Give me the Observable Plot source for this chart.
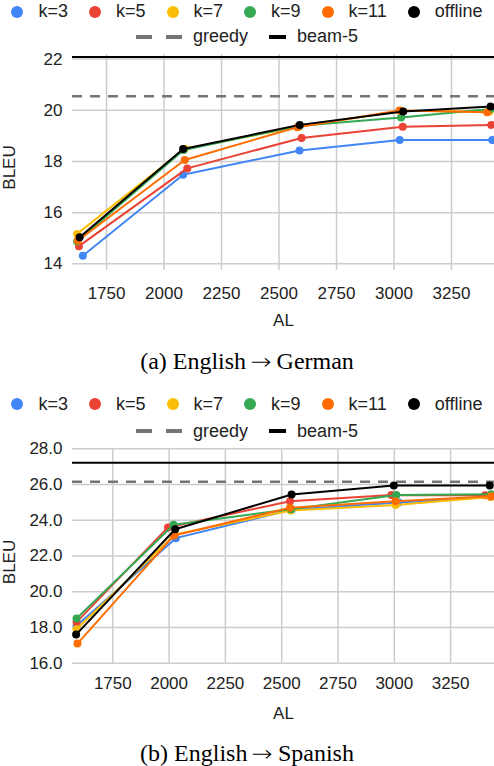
<!DOCTYPE html>
<html><head><meta charset="utf-8">
<script src="https://cdn.jsdelivr.net/npm/d3@7"></script>
<script src="https://cdn.jsdelivr.net/npm/@observablehq/plot@0.6"></script>
<style>
body{margin:0;background:#fff;}
#root{position:relative;width:494px;height:766px;overflow:hidden;font-family:"Liberation Sans",Arial,sans-serif;background:#fff;}
.row{position:absolute;left:0;width:494px;display:flex;justify-content:center;align-items:center;height:24px;font-size:18px;color:#222;white-space:nowrap;}
.item{display:flex;align-items:center;margin:0 10.5px;}
.item svg{display:block;}
.cap{position:absolute;left:0;width:494px;text-align:center;font-family:"Liberation Serif","Times New Roman",serif;font-size:24px;line-height:30px;color:#000;}
.arrow{font-family:"DejaVu Sans ExtraLight","DejaVu Sans",sans-serif;font-weight:200;font-size:22px;display:inline-block;transform:scaleX(1.15);}
.plot{position:absolute;left:0;}
</style></head><body><div id="root"></div>
<script>
// ---- shared ----
const seriesNames = ["k=3", "k=5", "k=7", "k=9", "k=11", "offline"];
const seriesColors = ["#4285F4", "#EA4335", "#FBBC04", "#34A853", "#FF6D01", "#000000"];
const refNames = ["greedy", "beam-5"];
const alTicks = [1750, 2000, 2250, 2500, 2750, 3000, 3250];

// ---- (a) English -> German ----
const deYTicks = [14, 16, 18, 20, 22];
const deAL = [
  [1647, 2083, 2589, 3025, 3427],
  [1630, 2101, 2598, 3038, 3423],
  [1622, 2090, 2585, 3030, 3415],
  [1622, 2085, 2590, 3031, 3420],
  [1625, 2090, 2580, 3024, 3405],
  [1633, 2083, 2590, 3040, 3420]
];
const deBLEU = [
  [14.32, 17.48, 18.43, 18.84, 18.84],
  [14.69, 17.73, 18.92, 19.36, 19.43],
  [15.17, 18.5, 19.36, 19.98, 19.95],
  [14.87, 18.45, 19.4, 19.72, 20.05],
  [14.9, 18.06, 19.34, 19.99, 19.92],
  [15.04, 18.49, 19.43, 19.95, 20.15]
];
const deGreedy = 20.55;
const deBeam = 22.08;

// ---- (b) English -> Spanish ----
const esYTicks = [16, 18, 20, 22, 24, 26, 28];
const esAL = [
  [1589, 2030, 2545, 3020, 3428],
  [1589, 1995, 2537, 2987, 3403],
  [1589, 2025, 2540, 3006, 3428],
  [1589, 2020, 2541, 3009, 3430],
  [1593, 2022, 2537, 3006, 3431],
  [1587, 2027, 2544, 2998, 3424]
];
const esBLEU = [
  [18.1, 23.0, 24.6, 25.0, 25.3],
  [18.3, 23.6, 25.07, 25.42, 25.4],
  [17.9, 23.2, 24.55, 24.85, 25.3],
  [18.5, 23.75, 24.62, 25.42, 25.45],
  [17.1, 23.15, 24.7, 25.07, 25.35],
  [17.6, 23.5, 25.44, 25.94, 25.94]
];
const esGreedy = 26.15;
const esBeam = 27.22;

const root = document.getElementById("root");

function legend(top1, top2) {
  const r1 = document.createElement("div");
  r1.className = "row";
  r1.style.top = (top1 - 12) + "px";
  seriesNames.forEach((n, i) => {
    const it = document.createElement("div");
    it.className = "item";
    it.innerHTML = `<svg width="12" height="12"><circle cx="6" cy="6" r="6" fill="${seriesColors[i]}"/></svg><span style="margin-left:15px">${n}</span>`;
    r1.appendChild(it);
  });
  root.appendChild(r1);
  const r2 = document.createElement("div");
  r2.className = "row";
  r2.style.top = (top2 - 12) + "px";
  const a = document.createElement("div");
  a.className = "item";
  a.innerHTML = `<svg width="46" height="4"><rect x="0" y="0" width="16" height="4" fill="#757575"/><rect x="30" y="0" width="16" height="4" fill="#757575"/></svg><span style="margin-left:11px">${refNames[0]}</span>`;
  const b = document.createElement("div");
  b.className = "item";
  b.innerHTML = `<svg width="17" height="4"><rect x="0" y="0" width="17" height="4" fill="#000"/></svg><span style="margin-left:11px">${refNames[1]}</span>`;
  r2.appendChild(a); r2.appendChild(b);
  root.appendChild(r2);
}

function chart(o) {
  const marks = [
    Plot.gridX(alTicks, {stroke: "#cccccc", strokeOpacity: 1, strokeWidth: 1.5}),
    Plot.gridY(o.yTicks, {stroke: "#cccccc", strokeOpacity: 1, strokeWidth: 1.5}),
    Plot.axisX({ticks: alTicks, tickSize: 0, tickPadding: o.xPad, label: null, tickFormat: d => String(d)}),
    Plot.axisY({ticks: o.yTicks, tickSize: 0, tickPadding: 10, label: null, tickFormat: o.yFormat}),
    Plot.text(["AL"], {frameAnchor: "bottom", lineAnchor: "middle", textAnchor: "middle", dy: 50, fill: "#222"}),
    Plot.text(["BLEU"], {frameAnchor: "left", textAnchor: "middle", lineAnchor: "middle", dx: -63, dy: o.labelDy, rotate: -90, fill: "#222"}),
    Plot.ruleY([o.greedy], {stroke: "#757575", strokeWidth: 2.5, strokeDasharray: "10,8"}),
    Plot.ruleY([o.beam], {stroke: "#000", strokeWidth: 2})
  ];
  seriesNames.forEach((n, s) => {
    const rows = o.AL[s].map((x, i) => ({series: n, al: x, bleu: o.BLEU[s][i]}));
    marks.push(Plot.line(rows, {x: "al", y: "bleu", stroke: seriesColors[s], strokeWidth: 2}));
    marks.push(Plot.dot(rows, {x: "al", y: "bleu", r: 4, fill: seriesColors[s]}));
  });
  const svg = Plot.plot({
    width: 494, height: o.height,
    marginLeft: 72, marginRight: 0, marginTop: o.marginTop, marginBottom: o.marginBottom,
    x: {domain: o.xDomain},
    y: {domain: o.yDomain},
    style: {fontFamily: "'Liberation Sans', Arial, sans-serif", fontSize: "17px", color: "#222", background: "transparent", overflow: "visible"},
    marks
  });
  svg.classList.add("plot");
  svg.style.position = "absolute";
  svg.style.top = o.top + "px";
  root.appendChild(svg);
}

function caption(pre, post, center) {
  const d = document.createElement("div");
  d.className = "cap";
  d.style.top = (center - 15) + "px";
  d.append(pre + " ");
  const ar = document.createElement("span");
  ar.className = "arrow";
  ar.textContent = "\u2192";
  d.append(ar);
  d.append(" " + post);
  root.appendChild(d);
}

legend(11.7, 36.7);
chart({AL: deAL, BLEU: deBLEU, yTicks: deYTicks, yDomain: [13.74, 22.18], xDomain: [1602, 3437],
  greedy: deGreedy, beam: deBeam, top: 45, height: 290, marginTop: 9, marginBottom: 65, xPad: 16, labelDy: 5, yFormat: d => String(d)});
caption("(a) English", "German", 360.7);

legend(404.3, 431);
chart({AL: esAL, BLEU: esBLEU, yTicks: esYTicks, yDomain: [16, 28], xDomain: [1571, 3445],
  greedy: esGreedy, beam: esBeam, top: 440, height: 290, marginTop: 8.3, marginBottom: 67.3, xPad: 14, labelDy: 6, yFormat: d3.format(".1f")});
caption("(b) English", "Spanish", 753.3);
</script>
</body></html>
